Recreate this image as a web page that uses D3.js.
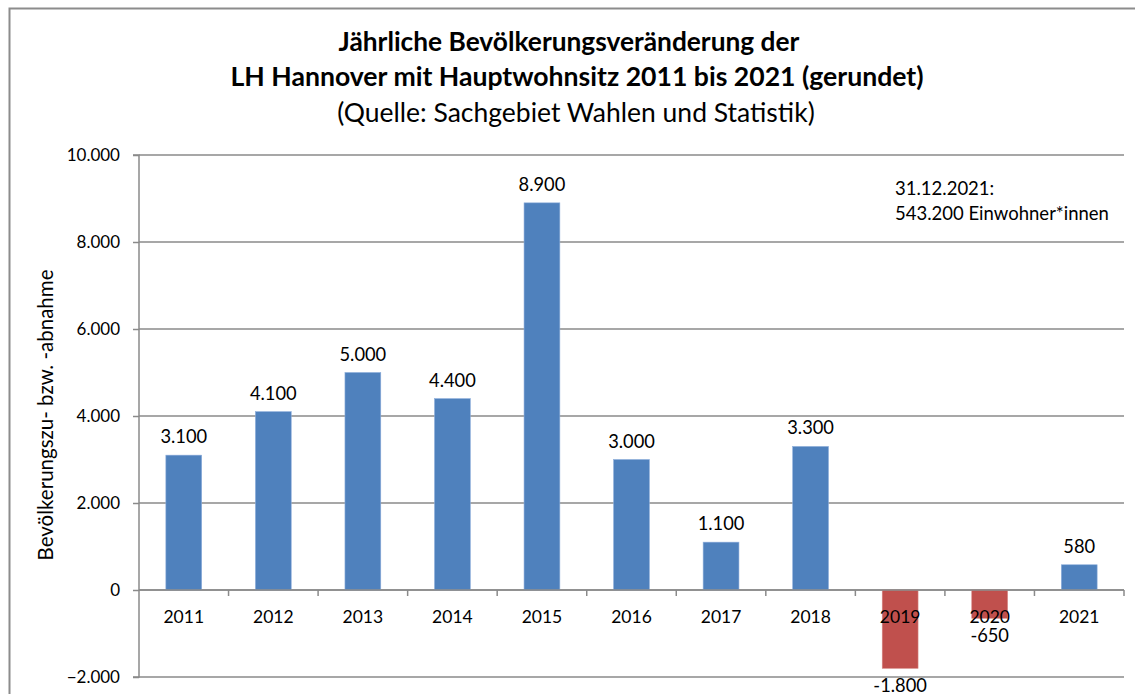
<!DOCTYPE html>
<html><head><meta charset="utf-8">
<script src="https://cdn.jsdelivr.net/npm/d3@7"></script>
<style>
html,body{margin:0;padding:0;background:#fff;}
svg{display:block;font-family:Lato,"Open Sans",sans-serif;}
</style></head>
<body>
<svg id="chart" width="1135" height="694"></svg>
<script>
const years = ["2011","2012","2013","2014","2015","2016","2017","2018","2019","2020","2021"];
const values = [3100,4100,5000,4400,8900,3000,1100,3300,-1800,-650,580];
const valueLabels = ["3.100","4.100","5.000","4.400","8.900","3.000","1.100","3.300","-1.800","-650","580"];
const yTicks = [-2000,0,2000,4000,6000,8000,10000];
const titleLines = ["Jährliche Bevölkerungsveränderung der","LH Hannover mit Hauptwohnsitz 2011 bis 2021 (gerundet)"];
const subtitle = "(Quelle: Sachgebiet Wahlen und Statistik)";
const yTitle = "Bevölkerungszu- bzw. -abnahme";
const note = ["31.12.2021:","543.200 Einwohner*innen"];

const svg = d3.select("#chart");
const L = 139, R = 1124, T = 155, B = 677;
const x = d3.scaleBand().domain(years).range([L,R]).paddingInner(0.6).paddingOuter(0.3);
const y = d3.scaleLinear().domain([-2000,10000]).range([B,T]);
const fmt = v => d3.format(",")(v).replace(/,/g,".");

// outer border
svg.append("path").attr("d",`M9.5,700 V8.5 H1140`).attr("fill","none").attr("stroke","#8c8c8c").attr("stroke-width",2);

// title
const tt = svg.append("text").attr("text-anchor","middle").attr("fill","#000");
tt.append("tspan").attr("x",569).attr("y",51).attr("font-weight","bold").attr("font-size",26.3).text(titleLines[0]);
tt.append("tspan").attr("x",577).attr("y",86).attr("font-weight","bold").attr("font-size",26.6).text(titleLines[1]);
tt.append("tspan").attr("x",576).attr("y",122).attr("font-size",26.5).text(subtitle);

// gridlines
svg.append("g").selectAll("line").data(yTicks).join("line")
  .attr("x1",L).attr("x2",R).attr("y1",d=>y(d)).attr("y2",d=>y(d))
  .attr("stroke","#8a8a8a").attr("stroke-width",1.5);

// bars
svg.append("g").selectAll("rect").data(values).join("rect")
  .attr("x",(d,i)=>x(years[i])).attr("width",x.bandwidth())
  .attr("y",d=>y(Math.max(0,d))).attr("height",d=>Math.abs(y(d)-y(0)))
  .attr("fill",d=>d<0?"#C0504D":"#4F81BD")
  .attr("stroke",d=>d<0?"#d68583":"#8eaedb").attr("stroke-width",0.6);

// y axis
const yAxis = d3.axisLeft(y).tickValues(yTicks).tickFormat(fmt).tickSize(6).tickPadding(13);
const gy = svg.append("g").attr("transform",`translate(${L},0)`).call(yAxis);
gy.select(".domain").attr("stroke","#8a8a8a").attr("stroke-width",1.5).attr("d",`M-6,${T}H0V${B}H-6`);
gy.selectAll(".tick line").attr("stroke","#8a8a8a").attr("stroke-width",1.5);
gy.selectAll(".tick text").attr("font-size",17).attr("font-family","Lato").attr("fill","#000");

// x axis at zero
const step = x.step();
const bounds = d3.range(years.length+1).map(i=>L+i*step);
const gx = svg.append("g");
gx.append("line").attr("x1",L).attr("x2",R).attr("y1",y(0)).attr("y2",y(0)).attr("stroke","#8a8a8a").attr("stroke-width",1.5);
gx.selectAll("line.tk").data(bounds.slice(1)).join("line").attr("class","tk")
  .attr("x1",d=>d).attr("x2",d=>d).attr("y1",y(0)).attr("y2",y(0)+6)
  .attr("stroke","#8a8a8a").attr("stroke-width",1.5);
gx.selectAll("text").data(years).join("text")
  .attr("x",d=>x(d)+x.bandwidth()/2).attr("y",y(0)+33)
  .attr("text-anchor","middle").attr("font-size",17.5).attr("fill","#000").text(d=>d);

// value labels
svg.append("g").selectAll("text").data(values).join("text")
  .attr("x",(d,i)=>x(years[i])+x.bandwidth()/2)
  .attr("y",d=>d<0?y(d)+24:y(d)-12)
  .attr("text-anchor","middle").attr("font-size",18.3).attr("fill","#000")
  .text((d,i)=>valueLabels[i]);

// y title
svg.append("text").attr("transform","translate(53,415) rotate(-90)")
  .attr("text-anchor","middle").attr("font-size",20.5).attr("fill","#000").text(yTitle);

// note
const nt = svg.append("text").attr("font-size",18.5).attr("fill","#000");
nt.append("tspan").attr("x",895).attr("y",195).text(note[0]);
nt.append("tspan").attr("x",895).attr("y",220).text(note[1]);
</script>
</body></html>
